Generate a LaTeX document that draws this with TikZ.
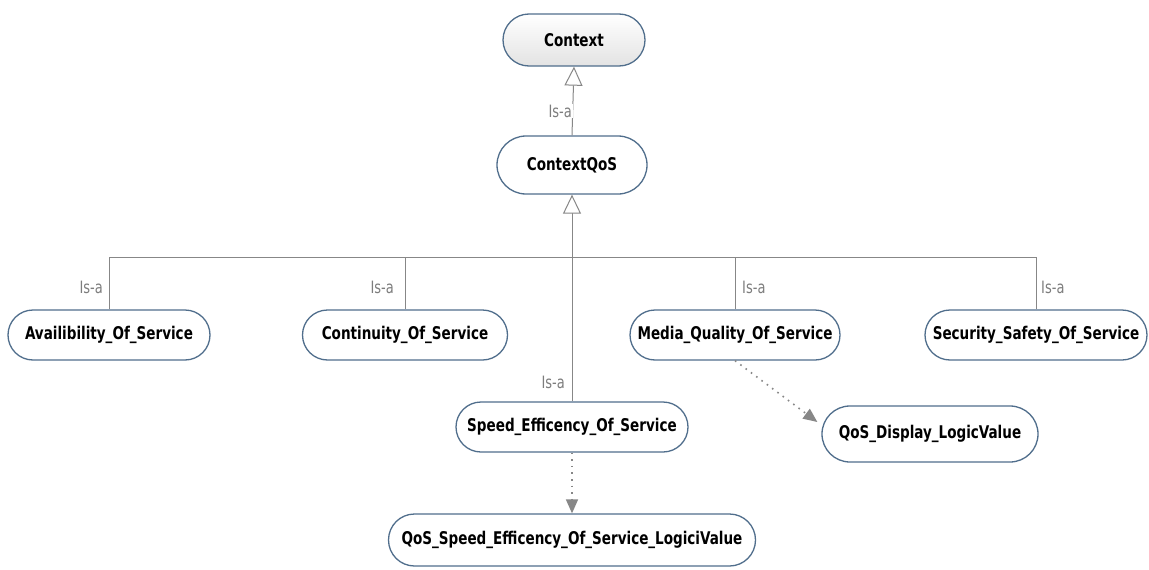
\documentclass[tikz,border=0pt]{standalone}
\usepackage{fontspec}
\setmainfont{DejaVu Sans Condensed}
\newfontfamily\nodefont[FakeStretch=0.86]{DejaVu Sans Condensed}
\newfontfamily\labfont[FakeStretch=0.85]{DejaVu Sans Condensed}
\usetikzlibrary{arrows.meta}
\definecolor{bordc}{RGB}{80,110,140}
\definecolor{edgec}{RGB}{135,135,135}
\definecolor{labc}{RGB}{125,125,125}
\tikzset{
  cls/.style={draw=bordc, line width=1.3pt, fill=white, font=\nodefont\fontsize{17.5}{20}\selectfont\bfseries, text=black, inner sep=0pt},
  isa/.style={edgec, line width=1pt, -{Triangle[open, length=19pt, width=18pt, fill=white]}},
  rel/.style={edgec, line width=1pt},
  dep/.style={edgec, line width=1.6pt, dash pattern=on 1.6pt off 5pt, -{Triangle[length=14pt, width=12pt]}},
  lab/.style={text=labc, font=\labfont\fontsize{17}{19}\selectfont, inner sep=1pt},
}
\begin{document}
\begin{tikzpicture}[x=1pt,y=-1pt]
\useasboundingbox[fill=white] (0,0) rectangle (1149,570);
\node[cls, minimum width=142pt, minimum height=52pt, rounded corners=26pt, top color=white, bottom color=gray!22] (ctx) at (574,40) {Context};
\node[cls, minimum width=150pt, minimum height=58pt, rounded corners=29pt] (cqos) at (572,165) {ContextQoS};
\node[cls, minimum width=202pt, minimum height=50pt, rounded corners=25pt] (avail) at (109,335) {Availibility\_Of\_Service};
\node[cls, minimum width=205pt, minimum height=50pt, rounded corners=25pt] (cont) at (405,335) {Continuity\_Of\_Service};
\node[cls, minimum width=210pt, minimum height=50pt, rounded corners=25pt] (media) at (735,335) {Media\_Quality\_Of\_Service};
\node[cls, minimum width=222pt, minimum height=50pt, rounded corners=25pt] (sec) at (1036,335) {Security\_Safety\_Of\_Service};
\node[cls, minimum width=232pt, minimum height=50pt, rounded corners=25pt] (speed) at (572,427) {Speed\_Efficency\_Of\_Service};
\node[cls, minimum width=367pt, minimum height=52pt, rounded corners=26pt] (qspeed) at (572,540) {QoS\_Speed\_Efficency\_Of\_Service\_LogiciValue};
\node[cls, minimum width=216pt, minimum height=56pt, rounded corners=28pt] (qdisp) at (930,434) {QoS\_Display\_LogicValue};
\coordinate (bar) at (0,257);
\coordinate (qdispin) at ([shift={(-4,-12)}]qdisp.west);
% Context <- ContextQoS
\draw[isa] (cqos.north) -- (ctx.south);
\node[lab, fill=white, anchor=east] (l0) at (573,111) {Is-a};
% ContextQoS <- children
\draw[isa] (speed.north) -- (cqos.south);
\draw[rel] (avail.north |- bar) -- (sec.north |- bar);
\draw[rel] (avail.north) -- (avail.north |- bar);
\draw[rel] (cont.north) -- (cont.north |- bar);
\draw[rel] (media.north) -- (media.north |- bar);
\draw[rel] (sec.north) -- (sec.north |- bar);
\node[lab, anchor=east] (l1) at (104,287) {Is-a};
\node[lab, anchor=east] (l2) at (395,287) {Is-a};
\node[lab, anchor=west] (l3) at (741,287) {Is-a};
\node[lab, anchor=west] (l4) at (1040,287) {Is-a};
\node[lab, anchor=east] (l5) at (566,382) {Is-a};
% dependencies
\draw[dep] (speed.south) -- (qspeed.north);
\draw[dep] (media.south) -- (qdispin);
\end{tikzpicture}
\end{document}
